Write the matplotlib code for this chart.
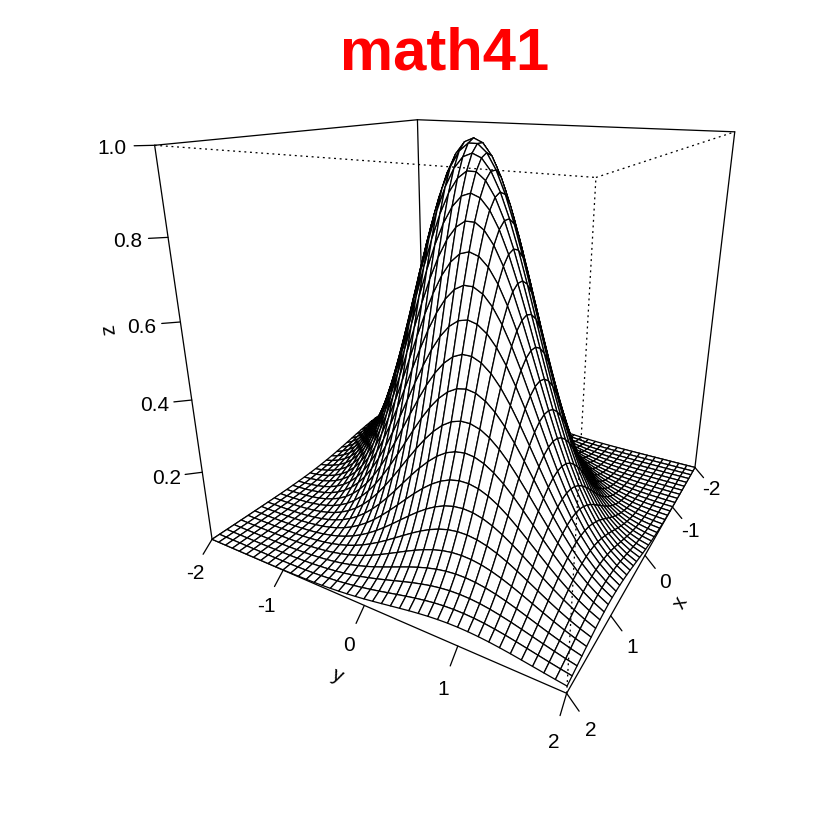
import numpy as np
import matplotlib
matplotlib.use("Agg")
import matplotlib.pyplot as plt
from matplotlib.transforms import offset_copy
from mpl_toolkits.mplot3d import proj3d

# Surface heights (in 1/10000) on the 0.1 mesh. The surface is symmetric under
# (x, y) -> (y, x) and (x, y) -> (-x, -y), so only x = 0.0 .. 2.0 (row i) with
# y = -x .. x is listed.
z_rows = [
    [10000],
    [9704, 9900, 9900],
    [8869, 9324, 9608, 9704, 9608],
    [7634, 8270, 8781, 9139, 9324, 9324, 9139],
    [6188, 6907, 7558, 8106, 8521, 8781, 8869, 8781, 8521],
    [4724, 5434, 6126, 6771, 7334, 7788, 8106, 8270, 8270, 8106, 7788],
    [3396, 4025, 4677, 5326, 5945, 6505, 6977, 7334, 7558, 7634, 7558, 7334, 6977],
    [2299, 2808, 3362, 3946, 4538, 5117, 5655, 6126, 6505, 6771, 6907, 6907, 6771, 6505, 6126],
    [1466, 1845, 2276, 2753, 3263, 3791, 4317, 4819, 5273, 5655, 5945, 6126, 6188, 6126, 5945, 5655, 5273],
    [880, 1142, 1452, 1809, 2209, 2645, 3104, 3570, 4025, 4449, 4819, 5117, 5326, 5434, 5434, 5326, 5117, 4819, 4449],
    [498, 665, 872, 1119, 1409, 1738, 2101, 2491, 2894, 3296, 3679, 4025, 4317, 4538, 4677, 4724, 4677, 4538, 4317, 4025, 3679],
    [265, 365, 493, 652, 846, 1075, 1340, 1637, 1959, 2299, 2645, 2982, 3296, 3570, 3791, 3946, 4025, 4025, 3946, 3791, 3570, 3296, 2982],
    [133, 189, 263, 358, 478, 627, 805, 1013, 1249, 1511, 1791, 2080, 2369, 2645, 2894, 3104, 3263, 3362, 3396, 3362, 3263, 3104, 2894, 2645, 2369],
    [63, 92, 132, 185, 255, 344, 455, 590, 750, 935, 1142, 1367, 1604, 1845, 2080, 2299, 2491, 2645, 2753, 2808, 2808, 2753, 2645, 2491, 2299, 2080, 1845],
    [28, 42, 62, 90, 128, 178, 242, 324, 424, 545, 686, 846, 1023, 1212, 1409, 1604, 1791, 1959, 2101, 2209, 2276, 2299, 2276, 2209, 2101, 1959, 1791, 1604, 1409],
    [12, 18, 28, 41, 60, 87, 122, 167, 226, 299, 388, 493, 614, 750, 898, 1054, 1212, 1367, 1511, 1637, 1738, 1809, 1845, 1845, 1809, 1738, 1637, 1511, 1367, 1212, 1054],
    [5, 7, 12, 18, 27, 40, 57, 82, 113, 155, 207, 271, 347, 437, 539, 652, 773, 898, 1023, 1142, 1249, 1340, 1409, 1452, 1466, 1452, 1409, 1340, 1249, 1142, 1023, 898, 773],
    [2, 3, 5, 7, 11, 17, 26, 37, 54, 75, 104, 140, 185, 240, 305, 380, 464, 556, 652, 750, 846, 935, 1013, 1075, 1119, 1142, 1142, 1119, 1075, 1013, 935, 846, 750, 652, 556],
    [1, 1, 2, 3, 4, 7, 11, 16, 24, 34, 49, 68, 93, 124, 162, 209, 263, 324, 392, 464, 539, 614, 686, 750, 805, 846, 872, 880, 872, 846, 805, 750, 686, 614, 539, 464, 392],
    [0, 0, 1, 1, 2, 3, 4, 7, 10, 15, 22, 31, 44, 60, 82, 108, 140, 178, 222, 271, 324, 380, 437, 493, 545, 590, 627, 652, 665, 665, 652, 627, 590, 545, 493, 437, 380, 324, 271],
    [0, 0, 0, 0, 1, 1, 2, 3, 4, 6, 9, 13, 20, 28, 38, 52, 70, 92, 118, 149, 183, 222, 263, 305, 347, 388, 424, 455, 478, 493, 498, 493, 478, 455, 424, 388, 347, 305, 263, 222, 183],
]
x_grid = [n / 10 for n in range(-20, 21)]
y_grid = [n / 10 for n in range(-20, 21)]
x_ticks = [-2, -1, 0, 1, 2]
y_ticks = [-2, -1, 0, 1, 2]
z_ticks = [0.2, 0.4, 0.6, 0.8, 1.0]
z_low, z_high = 0.0, 1.0
xl, xh, yl, yh = -2, 2, -2, 2

Z = np.zeros((41, 41))
for i, row in enumerate(z_rows):
    for k, val in enumerate(row):
        j = k - i
        for a, b in ((i, j), (j, i), (-i, -j), (-j, -i)):
            Z[a + 20, b + 20] = val / 10000
X, Y = np.meshgrid(x_grid, y_grid, indexing='ij')

plt.rcParams['font.family'] = ['Liberation Sans', 'DejaVu Sans']
W = 840
LW = 0.92
fig = plt.figure(figsize=(8.4, 8.4), dpi=100)
ax = fig.add_axes([42.2 / W, 73.2 / W, 1, 1], projection='3d', computed_zorder=False)
ax.set_proj_type('persp', focal_length=0.16011)
ax.view_init(elev=20, azim=30)
ax.set_box_aspect((1, 1, 1), zoom=0.76592)
ax.patch.set_alpha(0)
ax.set_axis_off()

K = dict(color='black', lw=LW, solid_capstyle='round')
D = dict(color='black', lw=LW, linestyle=(0, (1.5, 2.9)))
def seg(p, q, zo, **kw):
    ax.plot([p[0], q[0]], [p[1], q[1]], [p[2], q[2]], zorder=zo, **kw)

A, B, C, E = (xh, yl), (xh, yh), (xl, yh), (xl, yl)
order = [A, B, C, E, A]
for p, q in zip(order[:-1], order[1:]):
    seg((*p, z_low), (*q, z_low), 1, **K)
for p in (A, C, E):
    seg((*p, z_low), (*p, z_high), 1, **K)
seg((*A, z_high), (*E, z_high), 1, **K)
seg((*E, z_high), (*C, z_high), 1, **K)

ax.plot_surface(X, Y, Z, rstride=1, cstride=1, color='white', edgecolor='black',
                linewidth=LW, shade=False, antialiased=True, zorder=2)

seg((*A, z_high), (*B, z_high), 3, **D)
seg((*B, z_high), (*C, z_high), 3, **D)
seg((*B, z_low), (*B, z_high), 3, **D)

def y_off(v):
    return 0.22, 0.04 + 0.02 * (2 - v)
def x_off(v):
    return 0.19 - 0.02 * (v + 2), 0.15
zd = (0.115, -0.115)

for v in y_ticks:
    o = y_off(v)
    seg((xh, v, z_low), (xh + o[0], v + o[1], z_low), 1, **K)
for v in x_ticks:
    o = x_off(v)
    seg((v, yh, z_low), (v + o[0], yh + o[1], z_low), 1, **K)
for v in z_ticks:
    seg((xh, yl, v), (xh + zd[0], yl + zd[1], v), 1, **K)

ax.set_xlim(xl, xh, view_margin=0)
ax.set_ylim(yl, yh, view_margin=0)
ax.set_zlim(z_low, z_high, view_margin=0)
proj = ax.get_proj()

FS = 15
tr = offset_copy(ax.transData, fig=fig, x=0, y=-2, units='dots')
def lab(px, py, pz, s, **kw):
    u, v, _ = proj3d.proj_transform(px, py, pz, proj)
    ax.text2D(u, v, s, transform=tr, ha='center', va='center', fontsize=FS,
              zorder=5, clip_on=False, **kw)

for v in y_ticks:
    o = y_off(v)
    lab(xh + 2 * o[0], v + 2.2 * o[1], z_low, str(v))
for v in x_ticks:
    o = x_off(v)
    lab(v + 1.9 * o[0], yh + 1.9 * o[1], z_low, str(v))
for v in z_ticks:
    lab(xh + 2.05 * zd[0], yl + 2.05 * zd[1], v, f"{v:.1f}")

oy, ox = y_off(0), x_off(0)
lab(xh + 3.4 * oy[0], 0 + 3.8 * oy[1], z_low, 'y', rotation=-24)
lab(0 + 3.3 * ox[0], yh + 3.3 * ox[1], z_low, 'x', rotation=61)
lab(xh + 3.75 * zd[0], yl + 3.75 * zd[1], 0.6, 'z', rotation=98)

fig.text(444.5 / W, 1 - 54 / W, 'math41', color='red', fontsize=43, fontweight='bold',
         ha='center', va='center')
fig.savefig('out.png', dpi=100)
